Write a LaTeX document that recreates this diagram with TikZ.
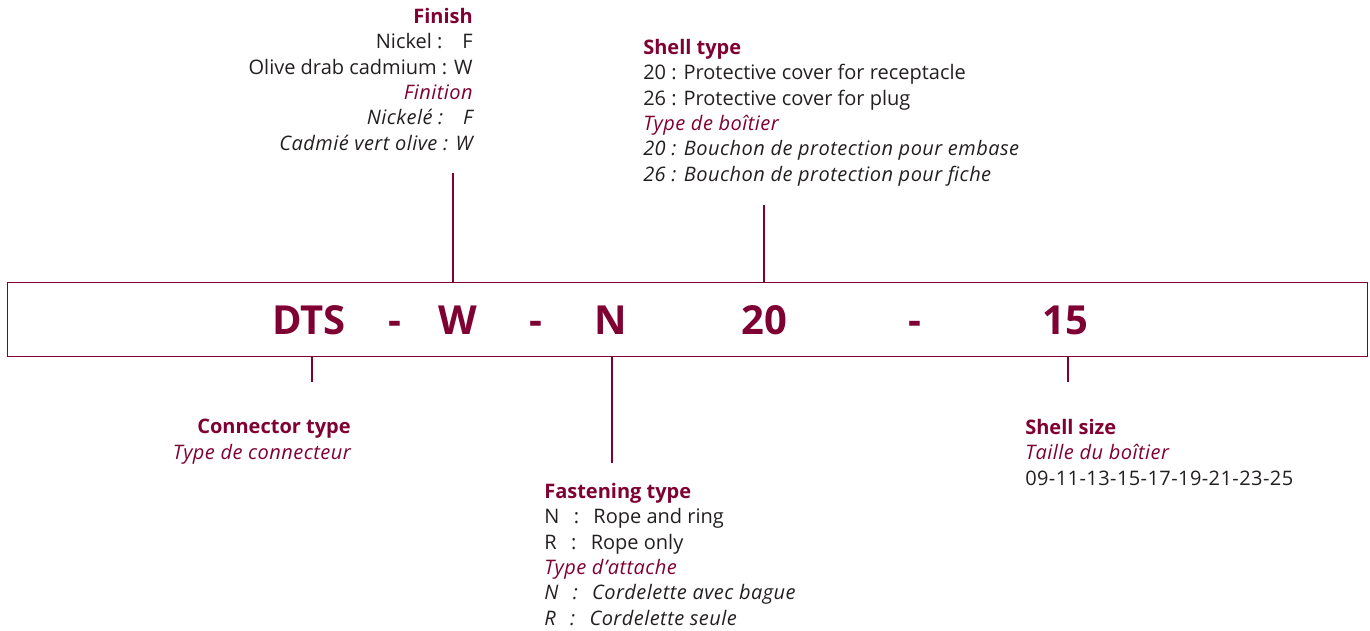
\documentclass[tikz,border=0pt]{standalone}
\usepackage{fontspec}
\setmainfont{Open Sans}[ItalicFeatures={LetterSpace=2.3}]
\definecolor{maroon}{HTML}{7F0032}
\definecolor{ink}{HTML}{231F20}
\newcommand{\csep}{\hspace{0.72em}:\hspace{0.72em}}
\begin{document}
\begin{tikzpicture}[x=0.75pt,y=-0.75pt,
  txt/.style={inner sep=0pt,text=ink,font=\fontsize{15pt}{19pt}\selectfont},
  code/.style={inner sep=0pt,text=maroon,font=\fontsize{30pt}{36pt}\selectfont\bfseries,anchor=base},
  lead/.style={draw=maroon,line width=0.9pt}]
\useasboundingbox (0,0) rectangle (1370,631);
\node[draw=maroon,line width=1pt,minimum width=1360*0.75pt,minimum height=74*0.75pt,anchor=north west,inner sep=0pt] (box) at (7,282) {};
\node[code] (dts) at (309,334) {DTS};
\node[code] (d1) at (395,334) {-};
\node[code] (w) at (458,334) {W};
\node[code] (d2) at (536,334) {-};
\node[code] (n) at (611,334) {N};
\node[code] (t20) at (764,334) {20};
\node[code] (d3) at (915,334) {-};
\node[code] (t15) at (1065,334) {15};
% top blocks
\node[txt,align=right,anchor=north east] (finish) at (473,8) {{\color{maroon}\bfseries Finish}\\Nickel :\quad F\\Olive drab cadmium : W\\{\color{maroon}\itshape Finition}\\{\itshape Nickel\'e :\quad F}\\{\itshape Cadmi\'e vert olive : W}};
\node[txt,align=left,anchor=north west] (shell) at (643,39) {{\color{maroon}\bfseries Shell type}\\20 : Protective cover for receptacle\\26 : Protective cover for plug\\{\color{maroon}\itshape Type de bo\^itier}\\{\itshape 20 : Bouchon de protection pour embase}\\{\itshape 26 : Bouchon de protection pour fiche}};
% bottom blocks
\node[txt,align=right,anchor=north east] (conn) at (351,419) {{\color{maroon}\bfseries Connector type}\\{\color{maroon}\itshape Type de connecteur}};
\node[txt,align=left,anchor=north west] (fast) at (544,483) {{\color{maroon}\bfseries Fastening type}\\N\csep Rope and ring\\R\csep Rope only\\{\color{maroon}\itshape Type d’attache}\\{\itshape N\csep Cordelette avec bague}\\{\itshape R\csep Cordelette seule}};
\node[txt,align=left,anchor=north west] (size) at (1025,419) {{\color{maroon}\bfseries Shell size}\\{\color{maroon}\itshape Taille du bo\^itier}\\{\addfontfeature{LetterSpace=2.1}09-11-13-15-17-19-21-23-25}};
% leaders
\coordinate (fa) at (453,173);
\coordinate (sa) at (764,205);
\coordinate (ca) at (312,382);
\coordinate (na) at (612,463);
\coordinate (za) at (1068,382);
\draw[lead] (fa) -- (fa |- box.north);
\draw[lead] (sa) -- (sa |- box.north);
\draw[lead] (ca |- box.south) -- (ca);
\draw[lead] (na |- box.south) -- (na);
\draw[lead] (za |- box.south) -- (za);
\end{tikzpicture}
\end{document}
